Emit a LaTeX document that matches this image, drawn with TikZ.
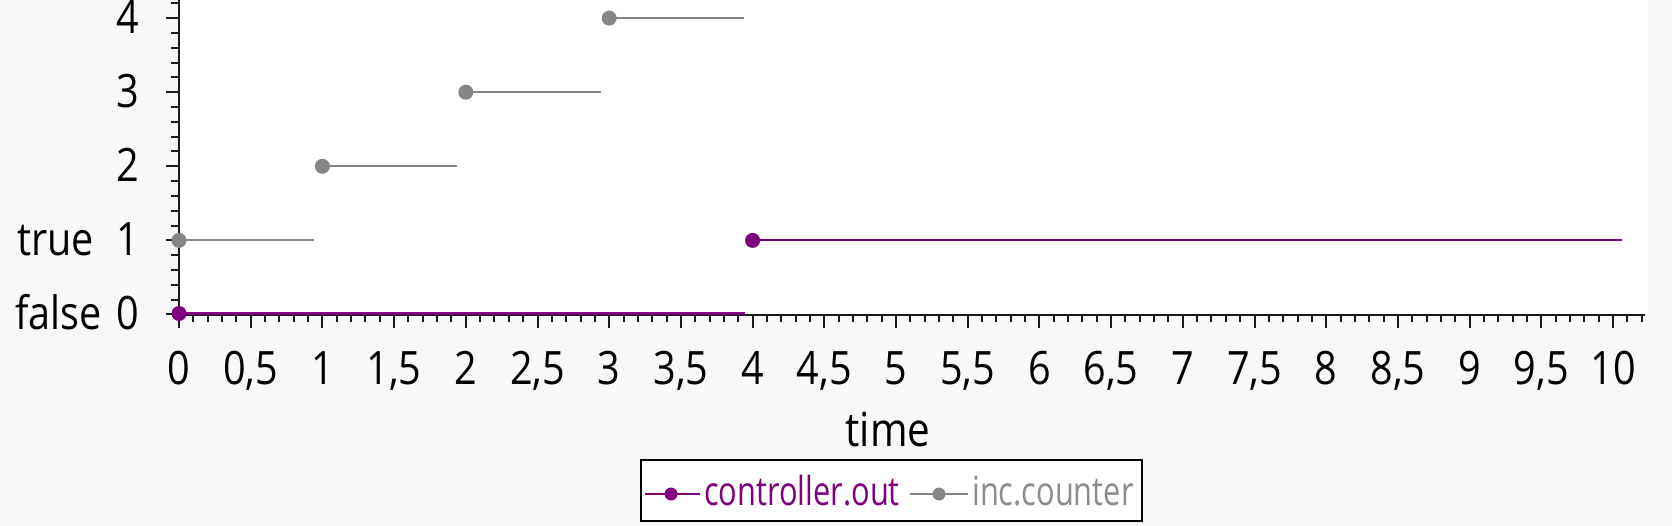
\documentclass[tikz,border=0pt]{standalone}
\usepackage{fontspec}
\setmainfont{Open Sans}[FakeStretch=0.86]
\newfontfamily\legfont{Open Sans}[FakeStretch=0.77]
\definecolor{ctrl}{HTML}{800080}
\definecolor{inc}{HTML}{858585}
\definecolor{bg}{HTML}{F8F8F8}
\definecolor{inctext}{HTML}{8C8C8C}
\definecolor{axiscol}{HTML}{1A1A1A}
\begin{document}
\begin{tikzpicture}[x=1pt,y=-1pt,
  ticklab/.style={font=\fontsize{46}{48}\selectfont, anchor=base, inner sep=0pt, text=black},
  axisline/.style={draw=axiscol, line width=2.2pt},
  tickmark/.style={draw=axiscol, line width=2pt},
  ctrlline/.style={draw=ctrl, line width=2.2pt},
  incline/.style={draw=inc, line width=2.2pt},
  ctrldot/.style={circle, fill=ctrl, inner sep=0pt, minimum size=15pt},
  incdot/.style={circle, fill=inc, inner sep=0pt, minimum size=15pt},
  legdot/.style={circle, inner sep=0pt, minimum size=13pt},
  legtext/.style={font=\legfont\fontsize{40}{42}\selectfont, anchor=base west, inner sep=0pt}]
\useasboundingbox (0,0) rectangle (1672,526);
\fill[bg] (0,0) rectangle (1672,526);
\fill[white] (179,0) rectangle (1648,315);
% x ticks
\foreach \i in {0,...,102}{
  \pgfmathsetmacro\xx{179+14.34*\i}
  \pgfmathtruncatemacro\m{mod(\i,5)}
  \ifnum\m=0
    \draw[tickmark] (\xx,315) -- ++(0,13);
  \else
    \draw[tickmark] (\xx,315) -- ++(0,7);
  \fi
}
% y ticks
\foreach \j in {0,...,21}{
  \pgfmathsetmacro\yy{314.5-14.82*\j}
  \pgfmathtruncatemacro\m{mod(\j,5)}
  \ifnum\m=0
    \draw[tickmark] (179,\yy) -- ++(-13,0);
  \else
    \draw[tickmark] (179,\yy) -- ++(-8,0);
  \fi
}
% axes
\coordinate (ytop) at (179,0);
\coordinate (orig) at (179,315);
\coordinate (xend) at (1645,315);
\draw[axisline] (ytop) -- (orig);
\draw[axisline] (orig) -- (xend);
% x tick labels
\foreach \i in {0,...,20}{
  \pgfmathtruncatemacro\h{floor(\i/2)}
  \pgfmathtruncatemacro\r{mod(\i,2)}
  \ifnum\r=0 \def\lab{\h}\else\def\lab{\h,5}\fi
  \node[ticklab] (xl\i) at ({179+71.7*\i},384) {\lab};
}
% y tick labels
\foreach \v in {0,...,4}{
  \node[ticklab, anchor=base east] (yl\v) at (139,{330-74.1*\v}) {\v};
}
\node[ticklab, anchor=base east] (ytrue) at (94,{330-74.1}) {true};
\node[ticklab, anchor=base east] (yfalse) at (102,330) {false};
% axis title
\node[ticklab, font=\fontsize{47}{49}\selectfont] (xtitle) at (888,446) {time};
% inc.counter data
\foreach \k in {0,...,3}{
  \pgfmathsetmacro\yy{314.5-74.1*(\k+1)}
  \node[incdot] (g\k) at ({179+143.4*\k},\yy) {};
  \coordinate (ge\k) at ({179+143.4*(\k+0.94)},\yy);
  \draw[incline] (g\k.center) -- (ge\k);
}
% controller.out data
\coordinate (c0e) at ({179+143.4*3.95},313.5);
\coordinate (c1e) at ({179+143.4*10.06},240.4);
\draw[ctrlline] (179,313.5) -- (c0e);
\node[ctrldot] (c0) at (179,313.5) {};
\node[ctrldot] (c1) at ({179+143.4*4},240.4) {};
\draw[ctrlline] (c1.center) -- (c1e);
% legend
\node[draw=black, line width=1.8pt, fill=white, inner sep=0pt,
      minimum width=501pt, minimum height=61pt] (legend) at (891.5,490.5) {};
\coordinate (lp1) at (645,494);
\coordinate (lp2) at (700,494);
\draw[ctrlline] (lp1) -- (lp2);
\node[legdot, fill=ctrl] (lpd) at (671,494) {};
\node[legtext, text=ctrl] (ltc) at (704,505) {controller.out};
\coordinate (lg1) at (910,494);
\coordinate (lg2) at (968,494);
\draw[incline] (lg1) -- (lg2);
\node[legdot, fill=inc] (lgd) at (939,494) {};
\node[legtext, text=inctext] (lti) at (972,505) {inc.counter};
\end{tikzpicture}
\end{document}
